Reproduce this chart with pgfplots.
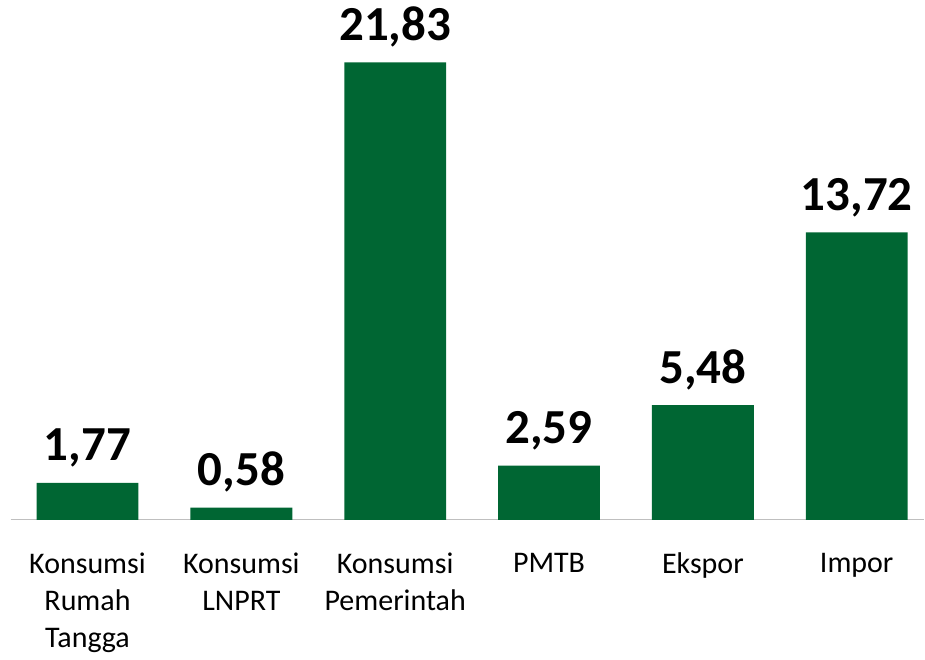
\documentclass[border={5pt 0pt 0pt 0pt}]{standalone}
\usepackage{fontspec}
\setmainfont{Carlito}
\usepackage{pgfplots}
\pgfplotsset{compat=1.18}
\definecolor{bargreen}{HTML}{006633}
\definecolor{axisgray}{HTML}{BFBFBF}
\begin{document}
\begin{tikzpicture}
\begin{axis}[
    scale only axis,
    width=457.5pt, height=262.5pt,
    xmin=-0.5, xmax=5.44,
    ymin=0, ymax=25.02,
    axis x line=bottom, axis y line=none,
    x axis line style={draw=axisgray, line width=0.6pt, -},
    xtick={0,1,2,3,4,5},
    xticklabels={{Konsumsi\\Rumah\\Tangga},{Konsumsi\\LNPRT},{Konsumsi\\Pemerintah},PMTB,Ekspor,Impor},
    xticklabel style={align=center, anchor=north, yshift=-13pt,
        font=\fontsize{15}{18.5}\selectfont},
    major tick length=0pt,
    ytick=\empty,
    clip=false,
    ybar, bar width=51pt,
    nodes near coords,
    point meta=explicit symbolic,
    every node near coord/.append style={anchor=base, yshift=11pt,
        font=\fontsize{24.5}{28}\selectfont\bfseries, text=black},
]
\addplot[fill=bargreen, draw=none] coordinates {
    (0,1.77) [1,77]
    (1,0.58) [0,58]
    (2,21.83) [21,83]
    (3,2.59) [2,59]
    (4,5.48) [5,48]
    (5,13.72) [13,72]
};
\end{axis}
\end{tikzpicture}
\end{document}
